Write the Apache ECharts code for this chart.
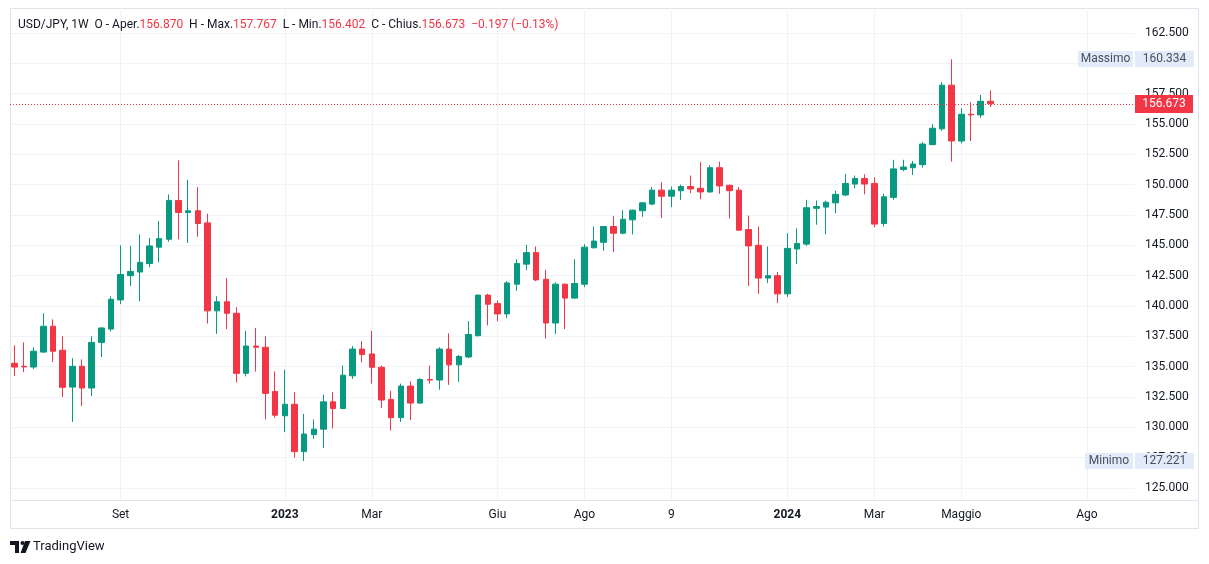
<!DOCTYPE html>
<html><head><meta charset="utf-8">
<script src="https://cdn.jsdelivr.net/npm/echarts@6/dist/echarts.min.js"></script>
<style>html,body{margin:0;padding:0;background:#fff}#c{width:1209px;height:564px}</style>
</head><body><div id="c"></div>
<script>
// Weekly USD/JPY candles, first week starting 2022-06-20
const OPEN  = [135.28,135.03,134.97,136.20,138.33,136.35,133.32,135.03,133.24,137.00,
               138.10,140.50,142.50,142.80,143.50,144.85,145.50,148.70,147.70,147.85,
               146.85,139.60,140.35,139.40,134.45,136.70,136.60,132.95,130.95,131.90,
               128.00,129.40,129.85,132.10,131.55,134.25,136.45,136.05,134.95,132.30,
               130.80,133.40,132.00,133.95,133.90,136.45,135.15,135.80,137.55,140.90,
               140.20,139.35,141.80,143.45,144.40,142.20,138.60,141.80,140.65,141.80,
               144.80,145.25,146.55,146.00,147.10,147.85,148.40,149.55,149.05,149.50,
               149.85,149.70,149.40,151.40,149.95,149.55,146.30,145.00,142.30,142.50,
               141.00,144.70,145.10,148.05,148.15,148.50,149.15,150.05,150.50,150.10,
               146.80,148.95,151.25,151.40,151.65,153.30,154.60,158.20,153.60,155.80,
               155.75,156.870];
const HIGH  = [136.76,137.00,136.60,139.40,138.90,137.50,135.70,135.60,137.50,138.25,
               140.80,145.00,144.95,145.90,145.60,147.00,149.20,152.00,150.40,149.80,
               147.60,140.80,142.30,139.90,137.95,138.20,137.50,134.60,134.75,132.90,
               131.10,130.65,132.70,132.90,135.10,136.70,137.10,137.95,135.10,133.00,
               133.60,133.80,134.05,135.10,136.60,137.75,135.95,138.75,140.93,141.00,
               140.45,142.05,143.85,145.05,144.90,143.00,141.95,141.85,143.85,145.10,
               146.55,146.60,147.40,147.90,147.95,148.55,149.80,150.20,149.85,150.00,
               150.75,151.85,151.60,151.90,150.00,149.80,147.45,146.55,144.90,142.80,
               146.00,146.40,148.75,148.70,148.70,149.50,150.90,150.75,150.85,150.60,
               149.25,152.05,152.05,151.95,153.50,155.00,158.45,160.334,156.30,156.80,
               157.40,157.767];
const LOW   = [134.23,134.55,134.80,136.15,135.38,132.50,130.44,131.75,132.58,135.80,
               137.90,140.15,141.65,140.40,143.20,143.60,145.30,145.50,145.20,145.70,
               138.55,137.70,138.10,133.70,134.20,134.60,130.65,130.80,129.60,127.50,
               127.221,129.05,128.30,129.90,131.50,134.00,135.35,133.60,131.60,129.75,
               130.45,130.60,131.95,133.60,133.10,133.50,133.75,135.70,137.50,138.40,
               138.75,139.00,141.25,142.95,142.05,137.30,137.70,138.10,140.60,141.55,
               144.75,144.55,144.45,145.90,145.90,147.35,148.30,147.25,148.15,148.75,
               149.30,148.80,149.35,149.25,147.20,146.20,141.65,141.00,141.90,140.25,
               140.75,143.45,144.95,146.70,145.90,147.65,149.05,149.70,149.20,146.50,
               146.55,148.75,151.10,150.80,151.40,153.25,154.45,151.90,153.40,153.60,
               155.50,156.402];
const CLOSE = [134.97,134.98,136.27,138.33,136.27,133.30,135.03,133.24,137.00,138.19,
               140.55,142.60,142.85,143.60,144.95,145.55,148.70,147.70,147.85,146.80,
               139.60,140.35,139.40,134.45,136.70,136.60,132.80,131.00,131.90,128.00,
               129.45,129.85,132.10,131.55,134.30,136.45,136.00,134.95,132.25,130.80,
               133.40,132.00,133.95,133.90,136.45,135.15,135.85,137.65,140.90,140.15,
               139.35,141.90,143.50,144.40,142.15,138.60,141.80,140.65,141.85,144.85,
               145.35,146.55,146.00,147.15,147.90,148.50,149.55,149.05,149.55,149.85,
               149.65,149.40,151.40,149.90,149.50,146.25,144.95,142.30,142.50,141.00,
               144.75,145.15,148.10,148.20,148.55,149.20,150.10,150.50,150.05,146.75,
               149.00,151.30,151.45,151.70,153.35,154.65,158.20,153.60,155.80,155.75,
               156.870,156.673];
// time-axis labels: week index -> text
const TICK_INDEX  = [11, 28, 37, 50, 59, 68, 80, 89, 98, 111];
const TICK_LABELS = ['Set', '2023', 'Mar', 'Giu', 'Ago', '9', '2024', 'Mar', 'Maggio', 'Ago'];
const TICK_BOLD   = ['2023', '2024'];
// price axis
const Y_MIN = 125, Y_MAX = 162.5, Y_STEP = 2.5;
const SYMBOL = 'USD/JPY, 1W';

const UP = '#089981', DOWN = '#f23645', GRID = '#f0f3fa', TXT = '#131722', FRAME = '#e0e3eb';
const FONT = 'Roboto, "Noto Sans", sans-serif';
const XMIN = -0.445, XMAX = 115.98;

const candles = OPEN.map((o, i) => [i, o, CLOSE[i], LOW[i], HIGH[i]]);
const last = OPEN.length - 1;
const maxHigh = Math.max(...HIGH), minLow = Math.min(...LOW);

const chart = echarts.init(document.getElementById('c'), null, {renderer: 'canvas'});
const option = {
  animation: false,
  backgroundColor: '#fff',
  textStyle: {fontFamily: FONT},
  grid: [
    {left: 10, right: 74, top: 33, bottom: 76, outerBoundsMode: 'none'},
    {left: 10, right: 74, top: 8, bottom: 64, outerBoundsMode: 'none'}
  ],
  xAxis: [
    {type: 'value', gridIndex: 0, min: XMIN, max: XMAX, show: false},
    {type: 'value', gridIndex: 1, min: XMIN, max: XMAX,
     axisLine: {show: false}, axisTick: {show: false}, splitLine: {show: false},
     axisLabel: {customValues: TICK_INDEX, margin: 9, fontSize: 12, color: TXT, fontFamily: FONT,
       formatter: v => {
         const k = TICK_INDEX.indexOf(Math.round(v));
         if (k < 0) return '';
         const t = TICK_LABELS[k];
         return TICK_BOLD.includes(t) ? '{b|' + t + '}' : t;
       },
       rich: {b: {fontWeight: 'bold', fontSize: 12, color: TXT, fontFamily: FONT}}}}
  ],
  yAxis: [
    {type: 'value', gridIndex: 0, position: 'right', min: Y_MIN, max: Y_MAX, interval: Y_STEP,
     axisLine: {show: false}, axisTick: {show: false},
     splitLine: {lineStyle: {color: GRID, width: 1}},
     axisLabel: {margin: 10, fontSize: 12, color: TXT, fontFamily: FONT, formatter: v => v.toFixed(3)}},
    {type: 'value', gridIndex: 1, min: 0, max: 1, show: false}
  ],
  series: [
    {type: 'line', xAxisIndex: 1, yAxisIndex: 1, data: [], silent: true,
     markLine: {z: 1, silent: true, symbol: 'none', animation: false,
       label: {show: false},
       lineStyle: {color: GRID, type: 'solid', width: 1},
       data: TICK_INDEX.map(v => ({xAxis: v}))}},
    {type: 'candlestick', xAxisIndex: 0, yAxisIndex: 0, z: 2,
     dimensions: ['idx', 'open', 'close', 'lowest', 'highest'],
     encode: {x: 0, y: [1, 2, 3, 4]},
     barWidth: 6,
     itemStyle: {color: UP, color0: DOWN, borderColor: UP, borderColor0: DOWN, borderWidth: 1},
     data: candles}
  ]
};
chart.setOption(option);

const yHi = chart.convertToPixel({yAxisIndex: 0}, maxHigh);
const yLo = chart.convertToPixel({yAxisIndex: 0}, minLow);
const yClRaw = chart.convertToPixel({yAxisIndex: 0}, CLOSE[last]);
const yCl = Math.round(yClRaw) + 0.5;
const xL = chart.convertToPixel({xAxisIndex: 0}, XMIN), xR = chart.convertToPixel({xAxisIndex: 0}, XMAX);
const chg = CLOSE[last] - CLOSE[last - 1];
const pct = chg / CLOSE[last - 1] * 100;
const fmt = (v, d) => (v < 0 ? '\u2212' : '+') + Math.abs(v).toFixed(d);
const BOXBG = '#e1ebf9', BOXTX = '#4a4f5c';
function box(id, x, w, y, text, h, bg, fg) {
  h = h || 16;
  return [
    {type: 'rect', id: id + 'r', z: 10, shape: {x: x, y: Math.round(y) - h / 2, width: w, height: h},
     style: {fill: bg || BOXBG}},
    {type: 'text', id: id + 't', z: 11, x: x + w / 2, y: Math.round(y),
     style: {text: text, fill: fg || BOXTX, font: '12px ' + FONT, align: 'center', verticalAlign: 'middle'}}
  ];
}
const header = '{k|' + SYMBOL + '  O - Aper.}{v|' + OPEN[last].toFixed(3) + '}' +
  '{k|  H - Max.}{v|' + HIGH[last].toFixed(3) + '}' +
  '{k|  L - Min.}{v|' + LOW[last].toFixed(3) + '}' +
  '{k|  C - Chius.}{v|' + CLOSE[last].toFixed(3) + '}' +
  '{v|  ' + fmt(chg, 3) + ' (' + fmt(pct, 2) + '%)}';
chart.setOption({
  graphic: [
    {type: 'rect', id: 'frame', z: 0, silent: true, shape: {x: 10.5, y: 8.5, width: 1188, height: 520},
     style: {fill: 'none', stroke: FRAME, lineWidth: 1}},
    {type: 'line', id: 'tline', z: 0, silent: true, shape: {x1: 10, y1: 500.5, x2: 1198, y2: 500.5},
     style: {stroke: FRAME, lineWidth: 1}},
    {type: 'line', id: 'pline', z: 5, silent: true, shape: {x1: xL, y1: yCl, x2: xR, y2: yCl},
     style: {stroke: DOWN, lineWidth: 1, lineDash: [1, 2]}},
    ...box('cl', 1135, 58, yClRaw, CLOSE[last].toFixed(3), 18, DOWN, '#ffffff'),
    {type: 'text', id: 'hdr', z: 10, x: 18, y: 25,
     style: {text: header, verticalAlign: 'middle', font: '12px ' + FONT,
       rich: {k: {fill: TXT, font: '12px ' + FONT}, v: {fill: DOWN, font: '12px ' + FONT}}}},
    ...box('mxl', 1078, 55, yHi, 'Massimo'),
    ...box('mxv', 1135, 59, yHi, maxHigh.toFixed(3)),
    ...box('mnl', 1085, 48, yLo, 'Minimo'),
    ...box('mnv', 1135, 59, yLo, minLow.toFixed(3)),
    {type: 'polygon', id: 'lg1', shape: {points: [[10,541],[19,541],[19,553],[15,553],[15,545],[10,545]]}, style: {fill: TXT}},
    {type: 'circle', id: 'lg2', shape: {cx: 22.5, cy: 543, r: 2}, style: {fill: TXT}},
    {type: 'polygon', id: 'lg3', shape: {points: [[25,541],[30.5,541],[25.5,553],[20.5,553]]}, style: {fill: TXT}},
    {type: 'text', id: 'lgt', x: 33, y: 547,
     style: {text: 'TradingView', fill: TXT, font: '13px ' + FONT, verticalAlign: 'middle'}}
  ]
});
</script></body></html>
